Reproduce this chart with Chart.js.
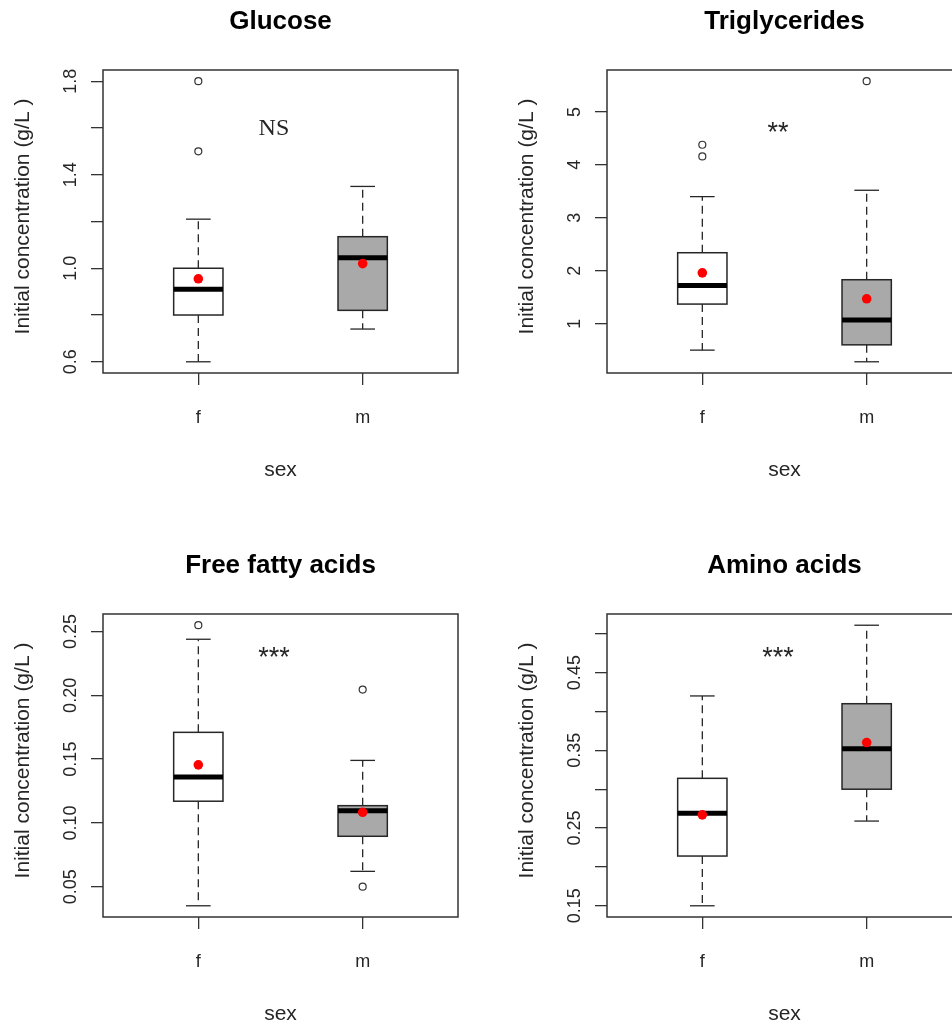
<!DOCTYPE html>
<html>
<head>
<meta charset="utf-8">
<title>Initial concentration by sex</title>
<script src="https://cdn.jsdelivr.net/npm/chart.js@4.4.1/dist/chart.umd.min.js"></script>
<style>
  html, body { margin: 0; padding: 0; background: #fff; overflow: hidden; }
  body { width: 952px; height: 1023px; position: relative; }
  canvas { position: absolute; }
</style>
</head>
<body>
<canvas id="glucose" width="503" height="544" style="left:0px;top:0px"></canvas>
<canvas id="triglycerides" width="503" height="544" style="left:504px;top:0px"></canvas>
<canvas id="ffa" width="503" height="544" style="left:0px;top:544px"></canvas>
<canvas id="amino" width="503" height="544" style="left:504px;top:544px"></canvas>
<script>
// box plot summaries, one value per sex (f, m)
const sexLevels = ['f', 'm']

const glucoseLow = [0.60, 0.74]
const glucoseQ1 = [0.80, 0.82]
const glucoseMedian = [0.91, 1.045]
const glucoseQ3 = [1.00, 1.135]
const glucoseHigh = [1.21, 1.35]
const glucoseMean = [0.955, 1.02]
const glucoseOutliers = [[1.5, 1.8], []]
const glucoseTicks = [0.6, 0.8, 1.0, 1.2, 1.4, 1.6, 1.8]
const glucoseTickLabels = ['0.6', '', '1.0', '', '1.4', '', '1.8']

const trigLow = [0.50, 0.28]
const trigQ1 = [1.37, 0.60]
const trigMedian = [1.72, 1.07]
const trigQ3 = [2.34, 1.83]
const trigHigh = [3.40, 3.52]
const trigMean = [1.96, 1.47]
const trigOutliers = [[4.16, 4.38], [5.58]]
const trigTicks = [1, 2, 3, 4, 5]
const trigTickLabels = ['1', '2', '3', '4', '5']

const ffaLow = [0.035, 0.062]
const ffaQ1 = [0.117, 0.0895]
const ffaMedian = [0.136, 0.1096]
const ffaQ3 = [0.171, 0.1135]
const ffaHigh = [0.244, 0.149]
const ffaMean = [0.1455, 0.1083]
const ffaOutliers = [[0.255], [0.050, 0.2045]]
const ffaTicks = [0.05, 0.10, 0.15, 0.20, 0.25]
const ffaTickLabels = ['0.05', '0.10', '0.15', '0.20', '0.25']

const aminoLow = [0.15, 0.259]
const aminoQ1 = [0.214, 0.300]
const aminoMedian = [0.269, 0.352]
const aminoQ3 = [0.314, 0.410]
const aminoHigh = [0.420, 0.511]
const aminoMean = [0.267, 0.360]
const aminoOutliers = [[], []]
const aminoTicks = [0.15, 0.20, 0.25, 0.30, 0.35, 0.40, 0.45, 0.50]
const aminoTickLabels = ['0.15', '', '0.25', '', '0.35', '', '0.45', '']

const panels = [
  { id: 'glucose', title: 'Glucose', low: glucoseLow, q1: glucoseQ1, med: glucoseMedian, q3: glucoseQ3,
    high: glucoseHigh, mean: glucoseMean, out: glucoseOutliers, ticks: glucoseTicks,
    tickLabels: glucoseTickLabels, note: 'NS', noteAt: [1.46, 1.60] },
  { id: 'triglycerides', title: 'Triglycerides', low: trigLow, q1: trigQ1, med: trigMedian, q3: trigQ3,
    high: trigHigh, mean: trigMean, out: trigOutliers, ticks: trigTicks,
    tickLabels: trigTickLabels, note: '**', noteAt: [1.46, 4.71] },
  { id: 'ffa', title: 'Free fatty acids', low: ffaLow, q1: ffaQ1, med: ffaMedian, q3: ffaQ3,
    high: ffaHigh, mean: ffaMean, out: ffaOutliers, ticks: ffaTicks,
    tickLabels: ffaTickLabels, note: '***', noteAt: [1.46, 0.234] },
  { id: 'amino', title: 'Amino acids', low: aminoLow, q1: aminoQ1, med: aminoMedian, q3: aminoQ3,
    high: aminoHigh, mean: aminoMean, out: aminoOutliers, ticks: aminoTicks,
    tickLabels: aminoTickLabels, note: '***', noteAt: [1.46, 0.4765] }
]

const SANS = '"Liberation Sans", Arial, sans-serif'
const SERIF = '"Liberation Serif", "Times New Roman", serif'
const INK = '#262626'
const BOX_FILL = ['#ffffff', '#a9a9a9']
const BOX_WIDTH = 0.3

function line(ctx, x1, y1, x2, y2) {
  ctx.beginPath()
  ctx.moveTo(x1, y1)
  ctx.lineTo(x2, y2)
  ctx.stroke()
}

// draws boxes/whiskers under the points, then frame and R-style labels on top
function boxplotPlugin(p) {
  return {
    id: 'rbox',
    beforeDatasetsDraw(chart) {
      const { ctx, scales: { x, y } } = chart
      ctx.save()
      sexLevels.forEach((lvl, i) => {
        const xc = x.getPixelForValue(i + 1)
        const hw = x.getPixelForValue(i + 1 + BOX_WIDTH / 2) - xc
        const cw = hw / 2
        const yLow = y.getPixelForValue(p.low[i])
        const yQ1 = y.getPixelForValue(p.q1[i])
        const yMed = y.getPixelForValue(p.med[i])
        const yQ3 = y.getPixelForValue(p.q3[i])
        const yHigh = y.getPixelForValue(p.high[i])

        ctx.strokeStyle = INK
        ctx.lineWidth = 1.3
        ctx.setLineDash([8, 5])
        line(ctx, xc, yQ3, xc, yHigh)
        line(ctx, xc, yQ1, xc, yLow)
        ctx.setLineDash([])
        line(ctx, xc - cw, yHigh, xc + cw, yHigh)
        line(ctx, xc - cw, yLow, xc + cw, yLow)

        ctx.fillStyle = BOX_FILL[i]
        ctx.fillRect(xc - hw, yQ3, 2 * hw, yQ1 - yQ3)
        ctx.lineWidth = 1.5
        ctx.strokeRect(xc - hw, yQ3, 2 * hw, yQ1 - yQ3)

        ctx.strokeStyle = '#000'
        ctx.lineWidth = 5
        line(ctx, xc - hw, yMed, xc + hw, yMed)
      })
      ctx.restore()
    },
    afterDraw(chart) {
      const { ctx, chartArea: a, scales: { x, y } } = chart
      const cx = (a.left + a.right) / 2
      ctx.save()
      ctx.strokeStyle = '#333'
      ctx.lineWidth = 1.5
      ctx.strokeRect(a.left, a.top, a.right - a.left, a.bottom - a.top)

      // title
      ctx.fillStyle = '#000'
      ctx.textAlign = 'center'
      ctx.textBaseline = 'alphabetic'
      ctx.font = 'bold 26px ' + SANS
      ctx.fillText(p.title, cx, a.top - 41)

      // x tick labels + axis title
      ctx.fillStyle = INK
      ctx.font = '18px ' + SANS
      sexLevels.forEach((lvl, i) => ctx.fillText(lvl, x.getPixelForValue(i + 1), a.bottom + 50))
      ctx.font = '21px ' + SANS
      ctx.fillText('sex', cx, a.bottom + 103)

      // y tick labels, rotated like R's default las=0
      ctx.font = '18px ' + SANS
      p.ticks.forEach((v, i) => {
        if (!p.tickLabels[i]) return
        ctx.save()
        ctx.translate(a.left - 27, y.getPixelForValue(v))
        ctx.rotate(-Math.PI / 2)
        ctx.fillText(p.tickLabels[i], 0, 0)
        ctx.restore()
      })
      ctx.save()
      ctx.font = '21px ' + SANS
      ctx.translate(a.left - 74, (a.top + a.bottom) / 2 - 5)
      ctx.rotate(-Math.PI / 2)
      ctx.fillText('Initial concentration (g/L )', 0, 0)
      ctx.restore()

      // significance mark, ink centred on its point
      ctx.font = p.note === 'NS' ? '24px ' + SERIF : '27px ' + SANS
      const m = ctx.measureText(p.note)
      const ny = y.getPixelForValue(p.noteAt[1]) + (m.actualBoundingBoxAscent - m.actualBoundingBoxDescent) / 2
      ctx.fillText(p.note, x.getPixelForValue(p.noteAt[0]), ny)
      ctx.restore()
    }
  }
}

function makePanel(p) {
  const all = [...p.low, ...p.high, ...p.out.flat()]
  const lo = Math.min(...all)
  const hi = Math.max(...all)
  const pad = (hi - lo) * 0.04

  const outlierPoints = p.out.flatMap((vals, i) => vals.map(v => ({ x: i + 1, y: v })))
  const meanPoints = p.mean.map((v, i) => ({ x: i + 1, y: v }))

  const axisGrid = { drawOnChartArea: false, drawTicks: true, tickLength: 12, color: '#333', lineWidth: 1.3 }

  return new Chart(document.getElementById(p.id), {
    type: 'scatter',
    data: {
      datasets: [
        { data: outlierPoints, pointRadius: 3.5, pointStyle: 'circle', borderColor: '#333',
          backgroundColor: 'rgba(0,0,0,0)', borderWidth: 1.2, clip: false },
        { data: meanPoints, pointRadius: 4.8, borderWidth: 0, backgroundColor: '#ff0000', clip: false }
      ]
    },
    options: {
      responsive: false,
      animation: false,
      events: [],
      layout: { padding: { left: 91, right: 45, top: 70, bottom: 159 } },
      plugins: { legend: { display: false }, tooltip: { enabled: false } },
      scales: {
        x: {
          type: 'linear',
          min: 0.42,
          max: 2.58,
          afterBuildTicks: axis => { axis.ticks = sexLevels.map((l, i) => ({ value: i + 1 })) },
          ticks: { display: false },
          grid: axisGrid,
          border: { display: false }
        },
        y: {
          type: 'linear',
          min: lo - pad,
          max: hi + pad,
          afterBuildTicks: axis => { axis.ticks = p.ticks.map(v => ({ value: v })) },
          ticks: { display: false },
          grid: axisGrid,
          border: { display: false }
        }
      }
    },
    plugins: [boxplotPlugin(p)]
  })
}

panels.forEach(makePanel)
</script>
</body>
</html>
